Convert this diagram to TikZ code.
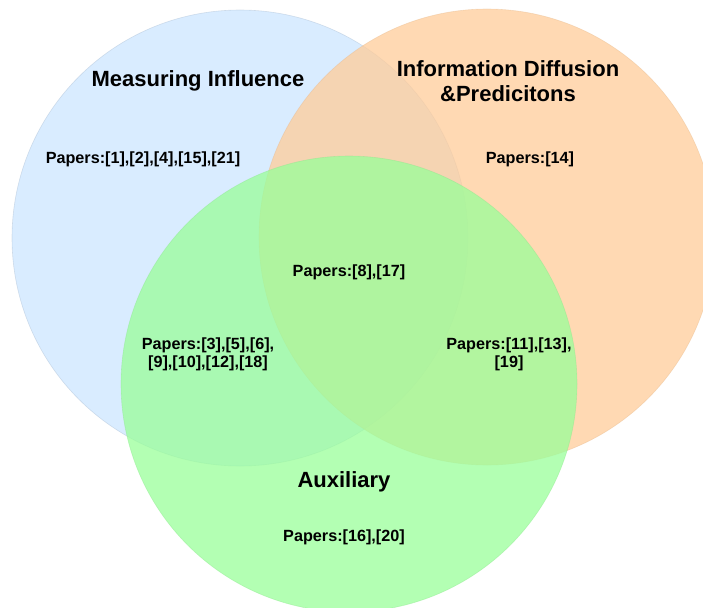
\documentclass[tikz,border=0pt]{standalone}
\usepackage{fontspec}
\setmainfont{Liberation Sans}
\definecolor{infblue}{HTML}{CCE5FF}
\definecolor{diforange}{HTML}{FFCC99}
\definecolor{auxgreen}{HTML}{99FF99}
\tikzset{
  vennset/.style={circle,minimum size=456pt,inner sep=0pt,fill opacity=0.75,draw opacity=0.4,line width=0.6pt},
  settitle/.style={align=center,font=\fontsize{22}{25}\selectfont\bfseries},
  paperlist/.style={align=center,font=\fontsize{16.2}{18}\selectfont\bfseries}
}
\begin{document}
\begin{tikzpicture}[x=1pt,y=-1pt]
    \useasboundingbox (0,0) rectangle (703,607);
    \clip (0,0) rectangle (703,607);
    \node[vennset,fill=infblue,draw=infblue!80!black] (mi) at (240,238) {};
    \node[vennset,fill=diforange,draw=diforange!90!black] (idp) at (487,237) {};
    \node[vennset,fill=auxgreen,draw=auxgreen!90!black] (aux) at (349,384) {};
    % set names
    \node[settitle] (mi-t) at (198,81) {Measuring Influence};
    \node[settitle] (idp-t) at (508,81) {Information Diffusion\\\&Predicitons};
    \node[settitle] (aux-t) at (344,482) {Auxiliary};
    % papers in each region
    \node[paperlist] (p1) at (143,159) {Papers:[1],[2],[4],[15],[21]};
    \node[paperlist] (p2) at (530,159) {Papers:[14]};
    \node[paperlist] (p3) at (349,272) {Papers:[8],[17]};
    \node[paperlist] (p4) at (208,354) {Papers:[3],[5],[6],\\{}[9],[10],[12],[18]};
    \node[paperlist] (p5) at (509,354) {Papers:[11],[13],\\{}[19]};
    \node[paperlist] (p6) at (344,537) {Papers:[16],[20]};
\end{tikzpicture}
\end{document}
